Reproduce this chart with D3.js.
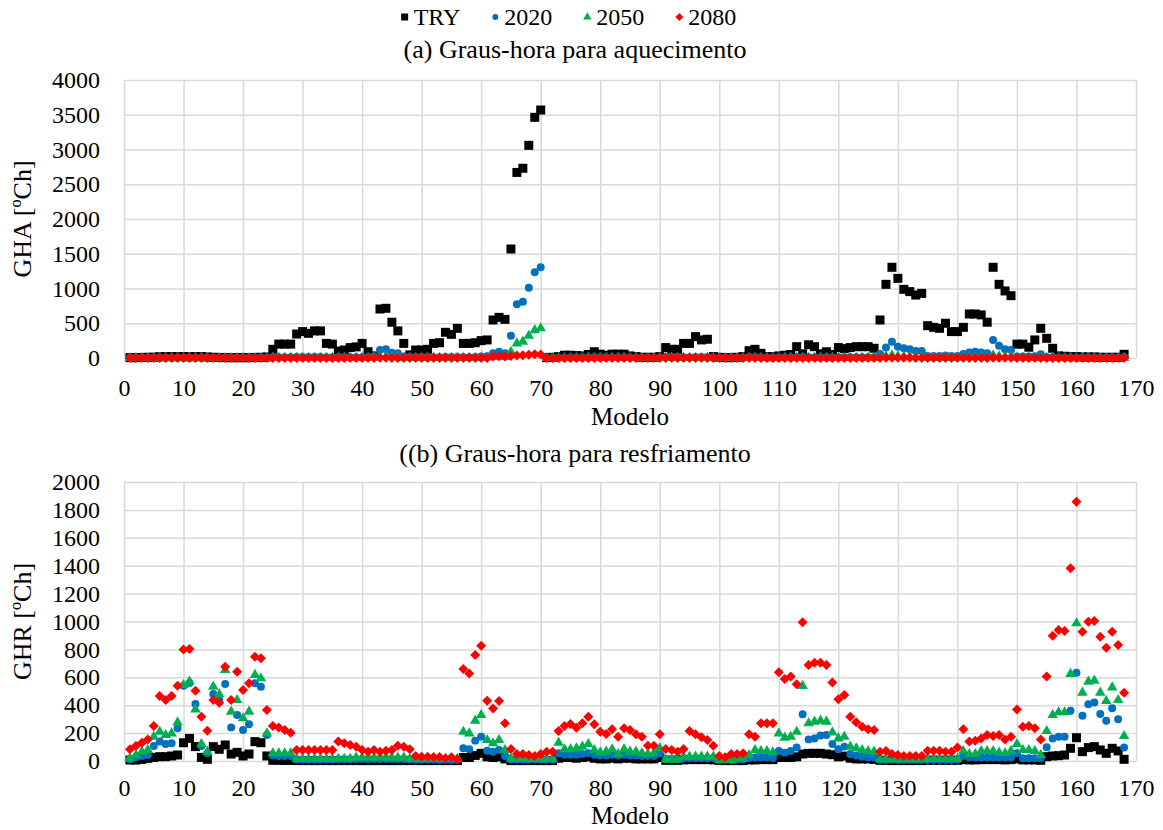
<!DOCTYPE html>
<html>
<head>
<meta charset="utf-8">
<title>Graus-hora</title>
<script src="https://cdn.jsdelivr.net/npm/d3@7"></script>
<style>
body { margin: 0; background: #fff; }
text { font-family: "Liberation Serif", "Times New Roman", serif; fill: #000; }
.grid line { stroke: #d9d9d9; stroke-width: 1.5px; }
.grid .domain { display: none; }
.axis .domain { display: none; }
.axis text { font-size: 24px; }
</style>
</head>
<body>
<script>

// Data: one value per modelo (1..168)
var modelos = d3.range(1, 169);
var seriesNames = ["TRY", "2020", "2050", "2080"];
var xTicks = d3.range(0, 171, 10);
var ghaTicks = d3.range(0, 4001, 500);
var ghrTicks = d3.range(0, 2001, 200);

// (a) Graus-hora para aquecimento
var ghaTRY = [
  5, 5, 8, 10, 12, 18, 20, 20, 20, 20,
  18, 20, 20, 15, 10, 8, 5, 5, 5, 5,
  5, 8, 10, 15, 125, 200, 200, 200, 345, 380,
  355, 390, 390, 210, 200, 100, 115, 150, 160, 210,
  90, 30, 705, 715, 515, 390, 210, 45, 115, 115,
  125, 210, 220, 370, 340, 427, 210, 210, 220, 250,
  260, 547, 585, 556, 1568, 2670, 2730, 3060, 3463, 3568,
  5, 10, 20, 40, 40, 35, 30, 50, 90, 55,
  40, 55, 55, 55, 30, 20, 10, 10, 10, 20,
  150, 125, 125, 210, 210, 307, 260, 270, 20, 10,
  5, 5, 10, 20, 105, 125, 67, 20, 20, 30,
  40, 50, 163, 60, 190, 163, 60, 90, 50, 150,
  135, 150, 163, 163, 163, 140, 547, 1060, 1305, 1146,
  988, 955, 906, 930, 465, 441, 427, 500, 380, 380,
  441, 633, 633, 620, 515, 1305, 1060, 965, 897, 200,
  200, 155, 260, 427, 283, 140, 30, 25, 20, 20,
  15, 15, 15, 10, 10, 10, 10, 53
];
var gha2020 = [
  2, 2, 2, 2, 3, 3, 3, 3, 3, 3,
  3, 3, 3, 3, 3, 2, 2, 2, 2, 2,
  2, 2, 3, 5, 10, 12, 12, 12, 15, 15,
  15, 15, 15, 12, 12, 10, 10, 10, 12, 12,
  10, 20, 115, 125, 77, 67, 20, 10, 10, 10,
  10, 12, 12, 15, 15, 15, 12, 12, 15, 20,
  25, 67, 90, 67, 320, 772, 810, 1012, 1233, 1305,
  5, 5, 5, 5, 5, 5, 5, 8, 10, 8,
  8, 8, 8, 8, 5, 5, 5, 5, 5, 5,
  10, 10, 10, 12, 12, 15, 15, 15, 5, 5,
  3, 3, 3, 5, 10, 10, 8, 5, 5, 5,
  8, 8, 12, 10, 12, 12, 8, 10, 8, 12,
  12, 12, 12, 12, 12, 12, 57, 150, 235, 163,
  140, 125, 100, 100, 30, 30, 30, 35, 30, 30,
  57, 80, 90, 80, 67, 260, 177, 125, 115, 20,
  20, 20, 25, 53, 15, 10, 5, 5, 5, 5,
  5, 5, 5, 5, 5, 5, 5, 10
];
var gha2050 = [
  0, 0, 0, 0, 0, 0, 0, 0, 0, 0,
  0, 0, 0, 0, 0, 0, 0, 0, 0, 0,
  0, 0, 0, 0, 2, 3, 3, 3, 4, 4,
  4, 4, 4, 3, 3, 2, 2, 2, 3, 3,
  2, 5, 15, 18, 12, 10, 4, 2, 2, 2,
  2, 3, 3, 4, 4, 4, 3, 3, 4, 5,
  6, 15, 18, 15, 90, 210, 235, 320, 400, 427,
  0, 0, 0, 0, 0, 0, 0, 1, 2, 1,
  1, 1, 1, 1, 0, 0, 0, 0, 0, 0,
  2, 2, 2, 3, 3, 4, 4, 4, 0, 0,
  0, 0, 0, 0, 2, 2, 1, 0, 0, 0,
  1, 1, 2, 1, 2, 2, 1, 2, 1, 2,
  2, 2, 2, 2, 2, 2, 10, 25, 40, 25,
  20, 18, 15, 15, 5, 5, 5, 5, 5, 5,
  10, 12, 15, 12, 10, 40, 25, 18, 15, 3,
  3, 3, 3, 8, 2, 1, 0, 0, 0, 0,
  0, 0, 0, 0, 0, 0, 0, 1
];
var gha2080 = [
  0, 0, 0, 0, 0, 0, 0, 0, 0, 0,
  0, 0, 0, 0, 0, 0, 0, 0, 0, 0,
  0, 0, 0, 0, 0, 0, 0, 0, 0, 0,
  0, 0, 0, 0, 0, 0, 0, 0, 0, 0,
  0, 0, 2, 2, 1, 1, 0, 0, 0, 0,
  0, 0, 0, 0, 0, 0, 0, 0, 0, 0,
  0, 20, 25, 20, 30, 35, 40, 45, 55, 50,
  0, 0, 0, 0, 0, 0, 0, 0, 0, 0,
  0, 0, 0, 0, 0, 0, 0, 0, 0, 0,
  0, 0, 0, 0, 0, 0, 0, 0, 0, 0,
  0, 0, 0, 0, 0, 0, 0, 0, 0, 0,
  0, 0, 0, 0, 0, 0, 0, 0, 0, 0,
  0, 0, 0, 0, 0, 0, 0, 3, 5, 3,
  2, 2, 1, 1, 0, 0, 0, 0, 0, 0,
  0, 1, 1, 1, 0, 5, 3, 2, 2, 0,
  0, 0, 0, 1, 0, 0, 0, 0, 0, 0,
  0, 0, 0, 0, 0, 0, 0, 0
];

// (b) Graus-hora para resfriamento
var ghrTRY = [
  7, 7, 12, 19, 26, 31, 31, 36, 43, 131,
  162, 103, 26, 12, 103, 84, 115, 50, 62, 36,
  50, 139, 131, 36, 5, 5, 4, 4, 3, 3,
  3, 3, 3, 3, 3, 3, 3, 3, 3, 3,
  3, 3, 3, 3, 3, 3, 3, 3, 3, 3,
  3, 3, 3, 3, 3, 3, 25, 25, 40, 55,
  30, 25, 30, 15, 3, 3, 3, 3, 3, 3,
  3, 3, 20, 25, 25, 20, 25, 30, 20, 15,
  15, 20, 15, 20, 20, 15, 15, 15, 15, 25,
  5, 5, 5, 8, 10, 10, 10, 10, 8, 3,
  3, 3, 3, 3, 8, 8, 10, 10, 10, 25,
  25, 25, 30, 50, 55, 55, 55, 50, 45, 30,
  35, 20, 15, 15, 15, 12, 5, 5, 3, 3,
  3, 3, 3, 3, 5, 5, 5, 5, 5, 5,
  10, 8, 8, 10, 10, 10, 10, 8, 10, 15,
  8, 8, 8, 5, 31, 36, 38, 43, 91, 167,
  67, 96, 103, 79, 55, 91, 72, 12
];
var ghr2020 = [
  12, 26, 36, 43, 108, 139, 122, 127, 234, 540,
  560, 409, 108, 55, 480, 437, 552, 241, 330, 222,
  263, 557, 533, 186, 40, 35, 35, 35, 10, 10,
  10, 10, 10, 10, 10, 12, 12, 12, 15, 15,
  15, 15, 15, 15, 15, 15, 15, 10, 10, 10,
  10, 10, 8, 8, 8, 8, 91, 84, 146, 174,
  74, 67, 79, 36, 10, 10, 10, 10, 10, 10,
  10, 10, 55, 45, 45, 45, 50, 55, 45, 40,
  40, 45, 40, 45, 40, 40, 35, 35, 35, 55,
  15, 15, 15, 20, 20, 20, 20, 20, 20, 8,
  8, 8, 10, 10, 22, 25, 25, 25, 22, 72,
  60, 72, 96, 335, 155, 162, 182, 186, 122, 84,
  103, 50, 40, 31, 25, 25, 8, 8, 8, 8,
  8, 8, 8, 8, 8, 8, 8, 8, 8, 10,
  36, 25, 25, 25, 25, 25, 25, 25, 25, 55,
  20, 20, 20, 20, 98, 162, 174, 174, 361, 633,
  325, 406, 420, 337, 289, 378, 299, 96
];
var ghr2050 = [
  19, 43, 67, 79, 174, 210, 186, 198, 277, 545,
  569, 370, 122, 67, 533, 478, 652, 354, 437, 306,
  354, 617, 593, 198, 55, 55, 55, 55, 15, 15,
  15, 15, 15, 15, 15, 15, 15, 15, 25, 25,
  25, 25, 25, 25, 25, 25, 25, 15, 15, 15,
  15, 15, 15, 15, 15, 15, 210, 198, 289, 330,
  150, 127, 150, 79, 15, 15, 15, 15, 15, 15,
  15, 15, 131, 84, 84, 91, 103, 122, 79, 62,
  67, 84, 50, 84, 67, 67, 55, 50, 55, 91,
  10, 10, 10, 31, 31, 31, 31, 31, 31, 8,
  8, 8, 19, 19, 43, 79, 72, 72, 62, 198,
  167, 174, 210, 538, 270, 282, 289, 282, 205, 162,
  174, 103, 91, 79, 72, 67, 12, 12, 12, 12,
  12, 12, 12, 12, 15, 15, 15, 15, 15, 15,
  72, 50, 50, 72, 72, 72, 60, 55, 72, 122,
  79, 79, 72, 43, 215, 330, 349, 349, 624, 987,
  490, 569, 576, 490, 430, 528, 437, 179
];
var ghr2080 = [
  84, 108, 131, 155, 251, 466, 437, 466, 540, 800,
  803, 504, 318, 217, 437, 418, 676, 437, 640, 509,
  557, 748, 736, 366, 251, 241, 222, 203, 79, 79,
  79, 79, 79, 79, 79, 139, 127, 115, 103, 79,
  67, 79, 67, 74, 79, 110, 103, 84, 36, 31,
  31, 28, 28, 19, 26, 12, 660, 628, 760, 827,
  432, 377, 430, 270, 86, 50, 50, 43, 36, 50,
  67, 67, 215, 251, 265, 239, 270, 318, 263, 210,
  194, 227, 174, 234, 222, 191, 174, 110, 110, 191,
  86, 79, 67, 86, 215, 191, 170, 150, 110, 36,
  26, 50, 50, 55, 191, 174, 270, 270, 270, 636,
  588, 605, 550, 994, 688, 705, 705, 688, 562, 442,
  473, 318, 277, 246, 227, 222, 67, 72, 50, 43,
  36, 36, 36, 36, 74, 74, 74, 67, 67, 96,
  227, 139, 146, 162, 186, 179, 186, 155, 174, 370,
  246, 251, 234, 155, 605, 898, 939, 932, 1381, 1859,
  927, 999, 1004, 891, 812, 927, 831, 490
];

// Look of each series
var colors = ["#000000", "#0070c0", "#00b050", "#ff0000"];

var diamond = {
  draw: function(ctx, size) {
    var r = Math.sqrt(size / 2);
    ctx.moveTo(0, -r); ctx.lineTo(r, 0); ctx.lineTo(0, r); ctx.lineTo(-r, 0); ctx.closePath();
  }
};
var shapes = [d3.symbolSquare, d3.symbolCircle, d3.symbolTriangle, diamond];
var sizes = [81, 50, 48, 50];
var legendSizes = [49, 28, 30, 32];

var width = 1163, height = 830;

var svg = d3.select("body").append("svg")
    .attr("width", width)
    .attr("height", height);

var x = d3.scaleLinear().domain([0, 170]).range([124, 1136]);

function drawPanel(opts) {
    var y = d3.scaleLinear().domain([0, opts.max]).range([opts.bottom, opts.top]);

    // gridlines
    svg.append("g")
        .attr("class", "grid")
        .attr("transform", "translate(0," + opts.bottom + ")")
        .call(d3.axisBottom(x).tickValues(xTicks).tickSize(-(opts.bottom - opts.top)).tickFormat(""));
    svg.append("g")
        .attr("class", "grid")
        .attr("transform", "translate(124,0)")
        .call(d3.axisLeft(y).tickValues(opts.ticks).tickSize(-(1136 - 124)).tickFormat(""));

    // axes labels
    svg.append("g")
        .attr("class", "axis")
        .attr("transform", "translate(0," + opts.bottom + ")")
        .call(d3.axisBottom(x).tickValues(xTicks).tickSize(0).tickPadding(opts.xPad));
    svg.append("g")
        .attr("class", "axis")
        .attr("transform", "translate(124,0)")
        .call(d3.axisLeft(y).tickValues(opts.ticks).tickSize(0).tickPadding(24).tickFormat(d3.format("d")));

    // points, TRY first and 2080 on top
    opts.data.forEach(function(vals, i) {
        svg.append("g")
            .selectAll("path")
            .data(vals)
            .enter().append("path")
            .attr("transform", function(d, j) { return "translate(" + x(modelos[j]) + "," + y(d) + ")"; })
            .attr("d", d3.symbol().type(shapes[i]).size(sizes[i]))
            .attr("fill", colors[i]);
    });

    svg.append("text")
        .attr("transform", "translate(31," + ((opts.top + opts.bottom) / 2) + ") rotate(-90)")
        .attr("text-anchor", "middle")
        .style("font-size", "26px")
        .text(opts.yTitle);

    svg.append("text")
        .attr("x", (124 + 1136) / 2)
        .attr("y", opts.xTitleY)
        .attr("text-anchor", "middle")
        .style("font-size", "25px")
        .text("Modelo");

    svg.append("text")
        .attr("x", 575)
        .attr("y", opts.titleY)
        .attr("text-anchor", "middle")
        .style("font-size", "26px")
        .text(opts.title);
}

drawPanel({
    top: 80, bottom: 358, max: 4000, ticks: ghaTicks,
    data: [ghaTRY, gha2020, gha2050, gha2080],
    yTitle: "GHA [ºCh]", title: "(a) Graus-hora para aquecimento",
    titleY: 58, xTitleY: 425, xPad: 21
});

drawPanel({
    top: 482, bottom: 761, max: 2000, ticks: ghrTicks,
    data: [ghrTRY, ghr2020, ghr2050, ghr2080],
    yTitle: "GHR [ºCh]", title: "((b) Graus-hora para resfriamento",
    titleY: 462, xTitleY: 824, xPad: 18
});

// Legend
var legend = svg.append("g");
var lx = 0;
seriesNames.forEach(function(name, i) {
    var item = legend.append("g").attr("transform", "translate(" + lx + ",0)");
    item.append("path")
        .attr("transform", "translate(5,-8)")
        .attr("d", d3.symbol().type(shapes[i]).size(legendSizes[i]))
        .attr("fill", colors[i]);
    var t = item.append("text")
        .attr("x", 14)
        .style("font-size", "24px")
        .text(name);
    lx += 14 + t.node().getComputedTextLength() + 30;
});
lx -= 30;
legend.attr("transform", "translate(" + (568 - lx / 2) + ",25)");

</script>
</body>
</html>
